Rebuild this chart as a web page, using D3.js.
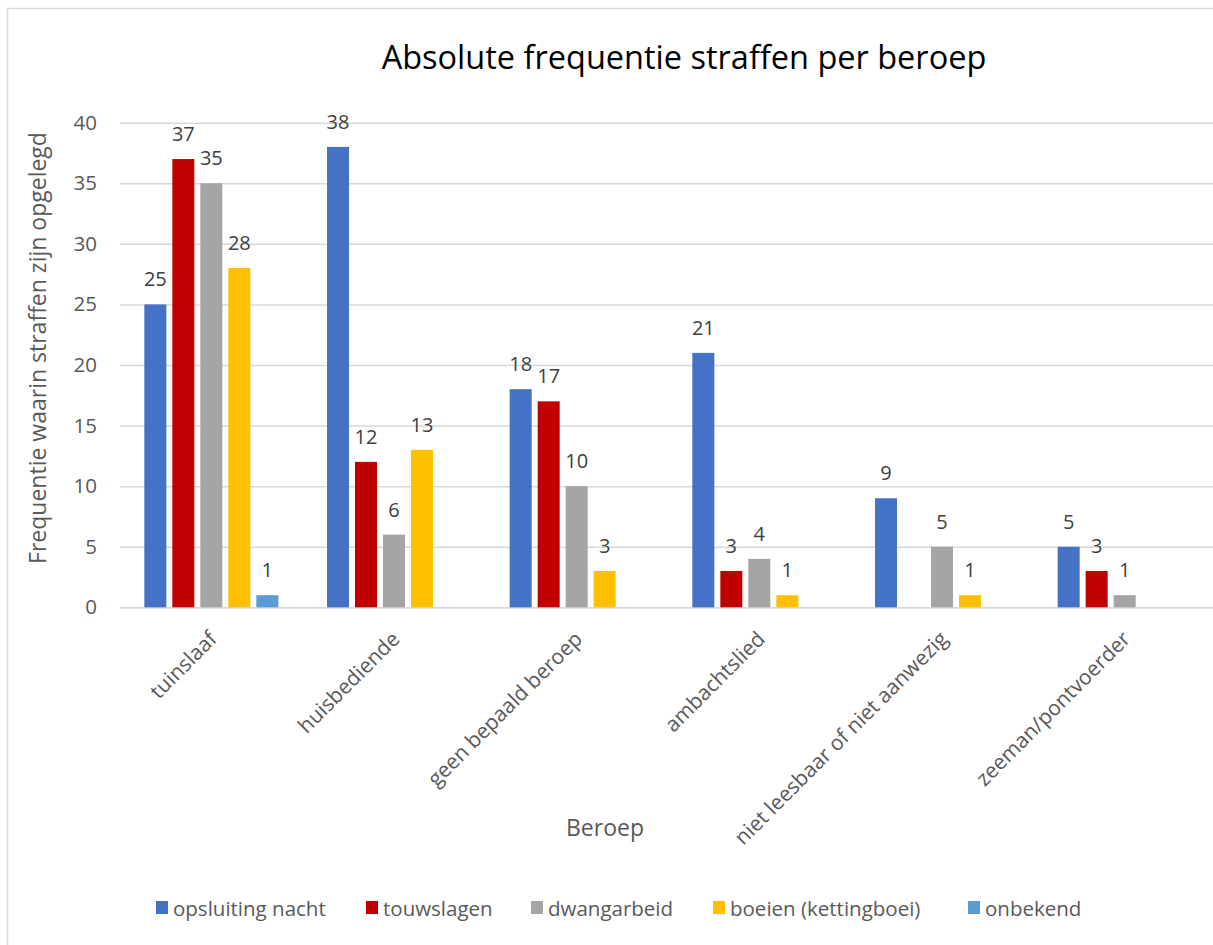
<!DOCTYPE html>
<html>
<head>
<meta charset="utf-8">
<script src="https://cdn.jsdelivr.net/npm/d3@7"></script>
<style>
  html, body { margin: 0; padding: 0; background: #fff; }
  svg { display: block; }
  text { font-family: "Open Sans", "Noto Sans", sans-serif; }
</style>
</head>
<body>
<svg id="chart" width="1213" height="945"></svg>
<script>
const categories = ["tuinslaaf", "huisbediende", "geen bepaald beroep", "ambachtslied", "niet leesbaar of niet aanwezig", "zeeman/pontvoerder"];
const seriesNames = ["opsluiting nacht", "touwslagen", "dwangarbeid", "boeien (kettingboei)", "onbekend"];
const seriesColors = ["#4472C4", "#C00000", "#A5A5A5", "#FFC000", "#5B9BD5"];
const opsluitingNacht = [25, 38, 18, 21, 9, 5];
const touwslagen = [37, 12, 17, 3, null, 3];
const dwangarbeid = [35, 6, 10, 4, 5, 1];
const boeien = [28, 13, 3, 1, 1, null];
const onbekend = [1, null, null, null, null, null];
const yTicks = [0, 5, 10, 15, 20, 25, 30, 35, 40];

const seriesValues = [opsluitingNacht, touwslagen, dwangarbeid, boeien, onbekend];

const svg = d3.select("#chart");

// chart border
svg.append("rect")
  .attr("x", 7.5).attr("y", 8.5)
  .attr("width", 1213).attr("height", 960)
  .attr("fill", "none").attr("stroke", "#d9d9d9").attr("stroke-width", 1.5);

const pLeft = 120, pRight = 1216, pTop = 122.7, pBottom = 607.3;

const x0 = d3.scaleBand().domain(categories).range([pLeft, pRight]).paddingInner(0).paddingOuter(0);
const bw = x0.bandwidth();
const groupW = 5 * 28 - 6;
const x1 = d3.scaleBand().domain(seriesNames)
  .range([(bw - groupW) / 2, (bw + groupW) / 2])
  .paddingInner(6 / 28).paddingOuter(0);
const y = d3.scaleLinear().domain([0, 40]).range([pBottom, pTop]);

// gridlines
const yAxis = d3.axisLeft(y).tickValues(yTicks).tickSize(-(pRight - pLeft)).tickPadding(23);
const gy = svg.append("g").attr("transform", `translate(${pLeft},0)`).call(yAxis);
gy.select(".domain").remove();
gy.selectAll(".tick line").attr("stroke", "#d9d9d9").attr("stroke-width", 1.5);
gy.selectAll(".tick text")
  .attr("fill", "#595959").style("font-size", "20.5px");

// x axis
const xAxis = d3.axisBottom(x0).tickSize(0).tickFormat("");
const gx = svg.append("g").attr("transform", `translate(0,${pBottom})`).call(xAxis);
gx.select(".domain").attr("stroke", "#d9d9d9").attr("stroke-width", 1.5);

// category labels rotated
svg.append("g").selectAll("text")
  .data(categories).join("text")
  .attr("transform", d => `translate(${x0(d) + bw / 2 + 7},${pBottom + 33}) rotate(-45)`)
  .attr("text-anchor", "end")
  .attr("fill", "#595959")
  .style("font-size", "21px")
  .text(d => d);

// bars
const barData = [];
seriesNames.forEach((s, si) => {
  categories.forEach((c, ci) => {
    const v = seriesValues[si][ci];
    if (v !== null && v !== undefined) barData.push({ s, si, c, v });
  });
});

svg.append("g").selectAll("rect")
  .data(barData).join("rect")
  .attr("x", d => x0(d.c) + x1(d.s))
  .attr("y", d => y(d.v))
  .attr("width", x1.bandwidth())
  .attr("height", d => pBottom - y(d.v))
  .attr("fill", d => seriesColors[d.si]);

// data labels
svg.append("g").selectAll("text")
  .data(barData).join("text")
  .attr("x", d => x0(d.c) + x1(d.s) + x1.bandwidth() / 2)
  .attr("y", d => y(d.v) - 18)
  .attr("text-anchor", "middle")
  .attr("fill", "#404040")
  .style("font-size", "20px")
  .text(d => d.v);

// title
svg.append("text")
  .attr("x", 684).attr("y", 68.5)
  .attr("text-anchor", "middle")
  .attr("fill", "#000")
  .style("font-size", "32.5px")
  .text("Absolute frequentie straffen per beroep");

// axis titles
svg.append("text")
  .attr("x", 605).attr("y", 836)
  .attr("text-anchor", "middle")
  .attr("fill", "#595959")
  .style("font-size", "23px")
  .text("Beroep");

svg.append("text")
  .attr("transform", `translate(46,348) rotate(-90)`)
  .attr("text-anchor", "middle")
  .attr("fill", "#595959")
  .style("font-size", "23px")
  .text("Frequentie waarin straffen zijn opgelegd");

// legend
const legendX = [156, 366, 531, 713, 968];
const lg = svg.append("g");
seriesNames.forEach((s, i) => {
  const g = lg.append("g").attr("transform", `translate(${legendX[i]},901)`);
  g.append("rect").attr("width", 12).attr("height", 13).attr("fill", seriesColors[i]);
  g.append("text").attr("x", 17).attr("y", 14.5)
    .attr("fill", "#595959").style("font-size", "20.5px").text(s);
});
</script>
</body>
</html>
